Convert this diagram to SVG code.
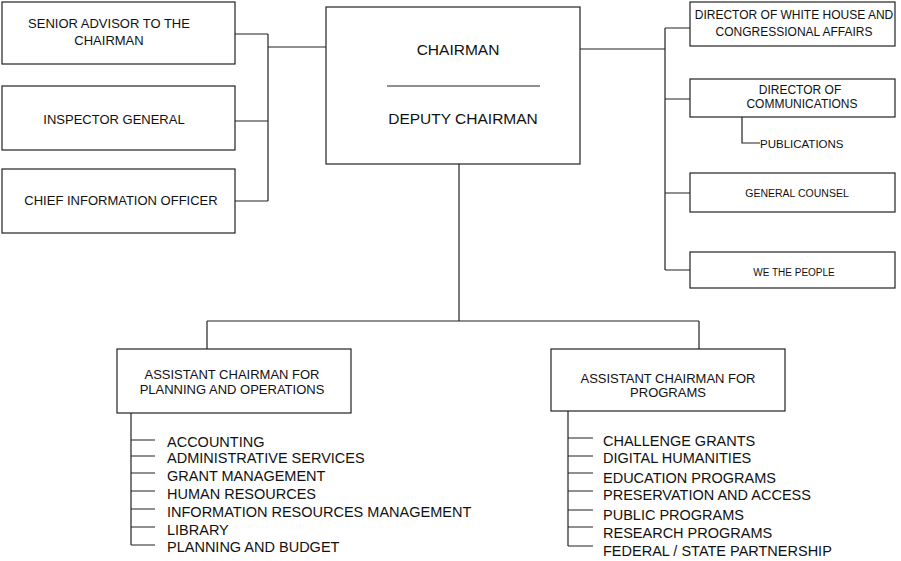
<svg xmlns="http://www.w3.org/2000/svg" width="901" height="561" viewBox="0 0 901 561">
<style>
.box{fill:#fff;stroke:#222;stroke-width:1.2}
.ln{fill:none;stroke:#222;stroke-width:1.2}
text{font-family:"Liberation Sans",Arial,sans-serif;fill:#111;text-anchor:middle}
.l13{font-size:13px}
.l12{font-size:12px}
.l15{font-size:15.5px}
.s10{font-size:10.5px}
.lst{font-size:14.5px;text-anchor:start}
</style>
<rect width="901" height="561" fill="#fff"/>
<g id="connectors">
<path class="ln" d="M235 34H268M235 121H268M235 201H268M268 34V201M268 47H326"/>
<path class="ln" d="M580 49H665M665 28V270M665 28H690M665 99H690M665 193H690M665 270H690"/>
<path class="ln" d="M742 117V143H760"/>
<path class="ln" d="M459 164V321M207 321H699M207 321V349M699 321V349"/>
<path class="ln" d="M131 413V545M131 440H155M131 456H155M131 473H155M131 491H155M131 509H155M131 527H155M131 545H155"/>
<path class="ln" d="M568 411V546M568 438H593M568 456H593M568 473H593M568 491H593M568 510H593M568 527H593M568 546H593"/>
</g>
<g id="senior-advisor"><rect class="box" x="2" y="2" width="233" height="62"/><text class="l13" x="109" y="28">SENIOR ADVISOR TO THE</text><text class="l13" x="109" y="45">CHAIRMAN</text></g>
<g id="inspector-general"><rect class="box" x="2" y="86" width="233" height="64"/><text class="l13" x="114" y="124">INSPECTOR GENERAL</text></g>
<g id="cio"><rect class="box" x="2" y="169" width="233" height="64"/><text class="l13" x="121" y="205">CHIEF INFORMATION OFFICER</text></g>
<g id="chairman"><rect class="box" x="326" y="7" width="254" height="157"/><text class="l15" x="458" y="55">CHAIRMAN</text><path class="ln" d="M387 86H540"/><text class="l15" x="463" y="124">DEPUTY CHAIRMAN</text></g>
<g id="white-house"><rect class="box" x="690" y="2" width="205" height="44"/><text class="l12" x="794" y="19">DIRECTOR OF WHITE HOUSE AND</text><text class="l12" x="794" y="36">CONGRESSIONAL AFFAIRS</text></g>
<g id="communications"><rect class="box" x="690" y="79" width="205" height="38"/><text class="l12" x="800" y="94">DIRECTOR OF</text><text class="l12" x="802" y="108">COMMUNICATIONS</text></g>
<g id="publications"><text class="l12" x="760" y="148" style="text-anchor:start;font-size:11.5px">PUBLICATIONS</text></g>
<g id="general-counsel"><rect class="box" x="690" y="173" width="205" height="39"/><text class="s10" x="797" y="197">GENERAL COUNSEL</text></g>
<g id="we-the-people"><rect class="box" x="690" y="252" width="205" height="36"/><text class="s10" x="794" y="276" style="font-size:10px">WE THE PEOPLE</text></g>
<g id="ac-planning"><rect class="box" x="117" y="349" width="234" height="64"/><text class="l13" x="232" y="379">ASSISTANT CHAIRMAN FOR</text><text class="l13" x="232" y="394">PLANNING AND OPERATIONS</text></g>
<g id="ac-programs"><rect class="box" x="551" y="349" width="234" height="62"/><text class="l13" x="668" y="383">ASSISTANT CHAIRMAN FOR</text><text class="l13" x="668" y="397">PROGRAMS</text></g>
<g id="planning-units">
<text class="lst" x="167" y="447">ACCOUNTING</text>
<text class="lst" x="167" y="463">ADMINISTRATIVE SERVICES</text>
<text class="lst" x="167" y="481">GRANT MANAGEMENT</text>
<text class="lst" x="167" y="499">HUMAN RESOURCES</text>
<text class="lst" x="167" y="517">INFORMATION RESOURCES MANAGEMENT</text>
<text class="lst" x="167" y="535">LIBRARY</text>
<text class="lst" x="167" y="552">PLANNING AND BUDGET</text>
</g>
<g id="program-units">
<text class="lst" x="603" y="446">CHALLENGE GRANTS</text>
<text class="lst" x="603" y="463">DIGITAL HUMANITIES</text>
<text class="lst" x="603" y="483">EDUCATION PROGRAMS</text>
<text class="lst" x="603" y="500">PRESERVATION AND ACCESS</text>
<text class="lst" x="603" y="520">PUBLIC PROGRAMS</text>
<text class="lst" x="603" y="538">RESEARCH PROGRAMS</text>
<text class="lst" x="603" y="556">FEDERAL / STATE PARTNERSHIP</text>
</g>
</svg>
